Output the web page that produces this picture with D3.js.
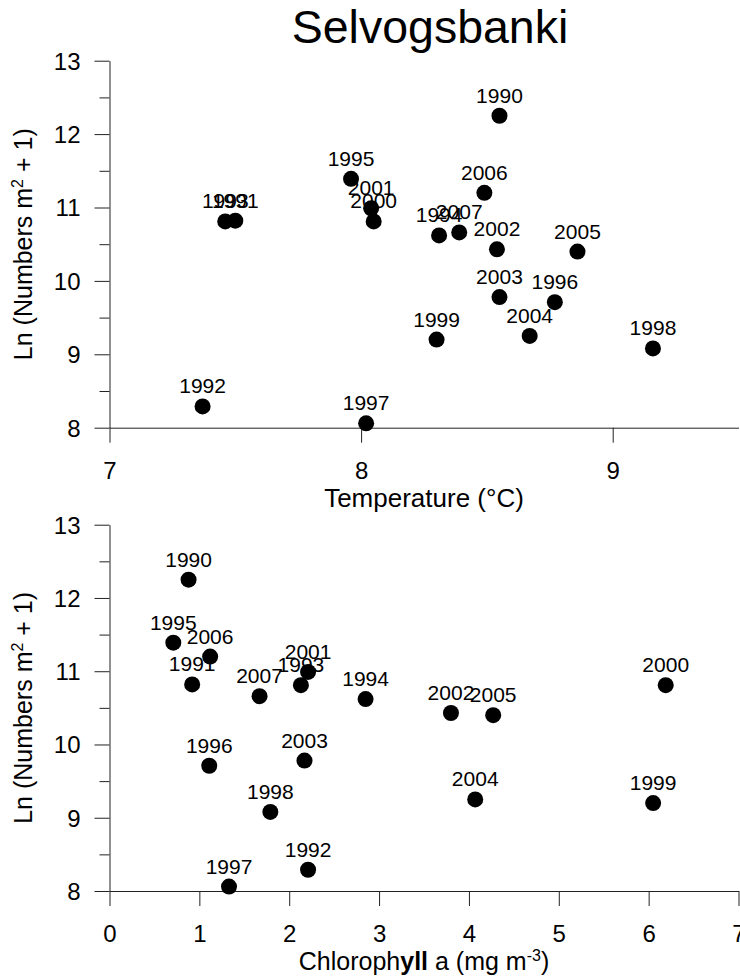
<!DOCTYPE html>
<html>
<head>
<meta charset="utf-8">
<script src="https://cdn.jsdelivr.net/npm/d3@7"></script>
<style>
  body { margin: 0; background: #fff; }
  svg { display: block; font-family: "Liberation Sans", Arial, sans-serif; }
</style>
</head>
<body>
<svg id="chart" width="740" height="979"></svg>
<script>
(function () {
    'use strict';

    const WIDTH = 740;
    const HEIGHT = 979;

    // one value per year, same order everywhere
    const years = [1990, 1991, 1992, 1993, 1994, 1995, 1996, 1997, 1998,
                   1999, 2000, 2001, 2002, 2003, 2004, 2005, 2006, 2007];
    const lnAbundance = [12.25, 10.82, 8.29, 10.81, 10.62, 11.39, 9.71, 8.06, 9.08,
                         9.20, 10.81, 10.99, 10.43, 9.78, 9.25, 10.40, 11.20, 10.66];
    const temperature = [8.55, 7.50, 7.37, 7.46, 8.31, 7.96, 8.77, 8.02, 9.16,
                         8.30, 8.05, 8.04, 8.54, 8.55, 8.67, 8.86, 8.49, 8.39];
    const chlorophyll = [0.88, 0.92, 2.21, 2.13, 2.85, 0.71, 1.11, 1.33, 1.79,
                         6.05, 6.19, 2.21, 3.80, 2.17, 4.07, 4.27, 1.12, 1.67];

    const yTicks = [8, 9, 10, 11, 12, 13];
    const yMinorTicks = [8.5, 9.5, 10.5, 11.5, 12.5];
    const tempTicks = [7, 8, 9];
    const chlTicks = [0, 1, 2, 3, 4, 5, 6, 7];

    const svg = d3.select('#chart');
    const fmt = d3.format('d');

    svg.append('text')
        .attr('x', 430)
        .attr('y', 43)
        .attr('text-anchor', 'middle')
        .attr('font-size', 46.5)
        .text('Selvogsbanki');

    function drawPanel(opts) {
        let x = d3.scaleLinear().domain(opts.xDomain).range([109.5, 738.5]);
        let y = d3.scaleLinear().domain([8, 13]).range([opts.bottom, opts.top]);
        let g = svg.append('g');

        // minor y ticks
        g.append('g')
            .attr('transform', 'translate(109.5,0)')
            .call(d3.axisLeft(y).tickValues(yMinorTicks).tickSize(10).tickFormat(''))
            .call(a => a.select('.domain').remove())
            .selectAll('line').attr('stroke', '#222');

        g.append('g')
            .attr('transform', 'translate(109.5,0)')
            .call(d3.axisLeft(y).tickValues(yTicks).tickFormat(fmt)
                .tickSize(15).tickSizeOuter(0).tickPadding(14))
            .call(a => a.selectAll('path,line').attr('stroke', '#222'))
            .call(a => a.selectAll('text').attr('font-size', 24).attr('fill', '#000')
                .attr('font-family', null).attr('dy', '0.35em'));

        g.append('g')
            .attr('transform', `translate(0,${opts.bottom})`)
            .call(d3.axisBottom(x).tickValues(opts.xTicks).tickFormat(fmt)
                .tickSize(15).tickSizeOuter(0).tickPadding(19))
            .call(a => a.selectAll('path,line').attr('stroke', '#222'))
            .call(a => a.selectAll('text').attr('font-size', 24).attr('fill', '#000')
                .attr('font-family', null));

        // y title
        let yt = g.append('text')
            .attr('transform', `translate(32,${(opts.top + opts.bottom) / 2}) rotate(-90)`)
            .attr('text-anchor', 'middle')
            .attr('font-size', 25);
        yt.append('tspan').text('Ln (Numbers m');
        yt.append('tspan').attr('font-size', 16).attr('dy', -9).text('2');
        yt.append('tspan').attr('dy', 9).text(' + 1)');

        // x title
        let xt = g.append('text')
            .attr('x', 424)
            .attr('y', opts.bottom + 79)
            .attr('text-anchor', 'middle')
            .attr('font-size', 25);
        opts.xTitle(xt);

        let pts = years.map((yr, i) => ({year: yr, x: opts.xValues[i], y: lnAbundance[i]}));

        g.selectAll('circle.pt')
            .data(pts)
            .join('circle')
            .attr('class', 'pt')
            .attr('cx', d => x(d.x))
            .attr('cy', d => y(d.y))
            .attr('r', 8)
            .attr('fill', '#000');

        g.selectAll('text.lbl')
            .data(pts)
            .join('text')
            .attr('class', 'lbl')
            .attr('x', d => x(d.x))
            .attr('y', d => y(d.y) - 13)
            .attr('text-anchor', 'middle')
            .attr('font-size', 21)
            .text(d => d.year);
    }

    drawPanel({
        top: 60.7, bottom: 427.7,
        xDomain: [7, 9.5], xTicks: tempTicks, xValues: temperature,
        xTitle: t => t.attr('font-size', 26).text('Temperature (°C)')
    });

    drawPanel({
        top: 524.7, bottom: 891,
        xDomain: [0, 7], xTicks: chlTicks, xValues: chlorophyll,
        xTitle: t => {
            t.append('tspan').text('Chloroph');
            t.append('tspan').attr('font-weight', 'bold').text('yll');
            t.append('tspan').text(' a (mg m');
            t.append('tspan').attr('font-size', 16).attr('dy', -9).text('-3');
            t.append('tspan').attr('dy', 9).text(')');
        }
    });
})();
</script>
</body>
</html>
